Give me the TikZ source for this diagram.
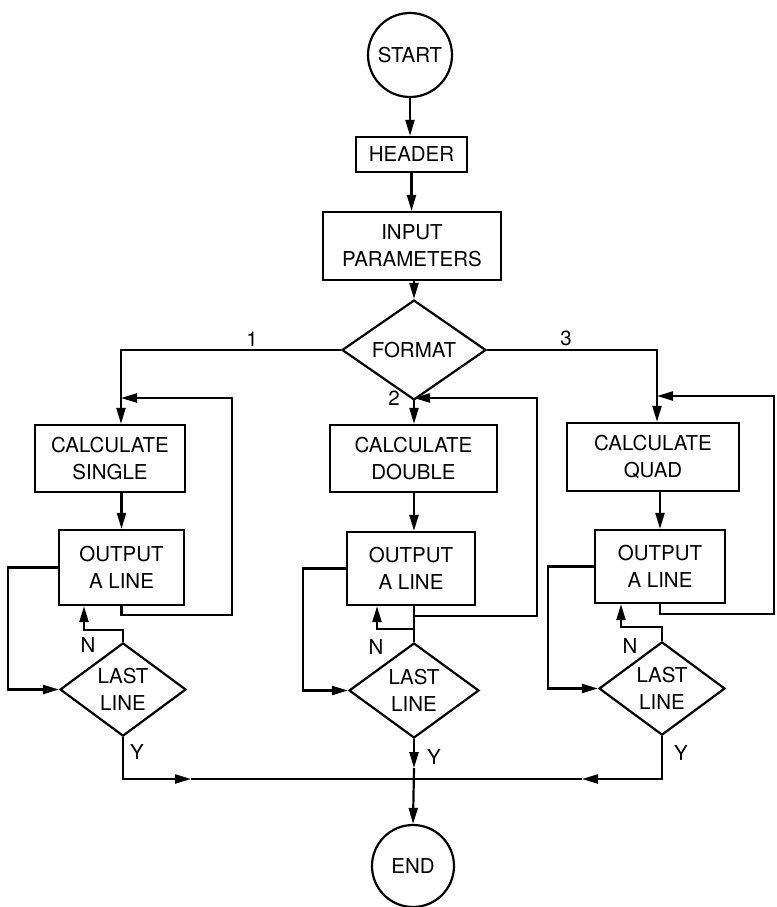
\documentclass[tikz,border=0pt]{standalone}
\usepackage{fontspec}
\setmainfont{TeX Gyre Heros}
\usetikzlibrary{shapes.geometric,arrows.meta}
\begin{document}
\begin{tikzpicture}[x=1pt,y=-1pt,
  every node/.style={font=\fontsize{20.5}{27}\selectfont, align=center, inner sep=0pt},
  box/.style={draw, line width=2.2pt, rectangle},
  term/.style={draw, line width=2.2pt, circle},
  dec/.style={draw, line width=2.2pt, diamond},
  line/.style={line width=2.2pt},
  arr/.style={line width=2.2pt, -{Triangle[length=16pt,width=9pt]}}
]
\useasboundingbox (0,0) rectangle (776,907);

% main column
\node[term, minimum size=84pt] (start) at (410,55) {START};
\node[box, minimum width=111pt, minimum height=35pt] (header) at (411.5,154.5) {HEADER};
\node[box, minimum width=178pt, minimum height=68pt] (input) at (412,246) {INPUT\\PARAMETERS};
\node[dec, minimum width=144pt, minimum height=64pt] (format) at (414,350) {FORMAT};

% left column
\node[box, minimum width=150pt, minimum height=67pt] (calcA) at (110,458.5) {CALCULATE\\SINGLE};
\node[box, minimum width=125pt, minimum height=75pt] (outA) at (121.5,567.5) {OUTPUT\\A LINE};
\node[dec, minimum width=126pt, minimum height=93pt] (lastA) at (123,689.5) {LAST\\LINE};

% middle column
\node[box, minimum width=167pt, minimum height=67pt] (calcB) at (413.5,458.5) {CALCULATE\\DOUBLE};
\node[box, minimum width=128pt, minimum height=73pt] (outB) at (411,568.5) {OUTPUT\\A LINE};
\node[dec, minimum width=130pt, minimum height=95pt] (lastB) at (414,690.5) {LAST\\LINE};

% right column
\node[box, minimum width=172pt, minimum height=68pt] (calcC) at (653,457) {CALCULATE\\QUAD};
\node[box, minimum width=130pt, minimum height=73pt] (outC) at (660,566.5) {OUTPUT\\A LINE};
\node[dec, minimum width=126pt, minimum height=93pt] (lastC) at (662,688.5) {LAST\\LINE};

\node[term, minimum size=82pt] (end) at (413,866) {END};

% labels
\node (l1) at (252,339) {1};
\node (l2) at (394,398) {2};
\node (l3) at (566,338) {3};
\node (nlA) at (88,645) {N};
\node (nlB) at (376,647) {N};
\node (nlC) at (630,646) {N};
\node (ylA) at (137,752) {Y};
\node (ylB) at (434,757) {Y};
\node (ylC) at (681,753) {Y};

% coordinates
\coordinate (loopA) at (121,398);
\coordinate (loopB) at (414,398);
\coordinate (loopC) at (657,396);
\coordinate (rA) at (232,615);
\coordinate (rB) at (537,616);
\coordinate (rC) at (774,614);
\coordinate (wA) at (8,0);
\coordinate (wB) at (303,0);
\coordinate (wC) at (548,0);
\coordinate (nA) at (84,630);
\coordinate (nB) at (377,629);
\coordinate (nC) at (621,627);
\coordinate (bus) at (414,779);
\coordinate (yA) at (191,779);
\coordinate (yB) at (414,768);
\coordinate (yC) at (582,779);

% top connectors
\draw[arr] (start.south) -- (start.south |- header.north);
\draw[arr] (header.south) -- (header.south |- input.north);
\draw[arr] (format.north |- input.south) -- (format.north);

% branches from FORMAT
\draw[line] (format.west) -| (loopA);
\draw[arr] (loopA) -- (loopA |- calcA.north);
\draw[line] (format.south) -- (loopB);
\draw[arr] (loopB) -- (loopB |- calcB.north);
\draw[line] (format.east) -| (loopC);
\draw[arr] (loopC) -- (loopC |- calcC.north);

% calc -> output
\draw[arr] (outA.north |- calcA.south) -- (outA.north);
\draw[arr] (lastB.north |- calcB.south) -- (lastB.north |- outB.north);
\draw[arr] (outC.north |- calcC.south) -- (outC.north);

% left column loops
\draw[arr] (outA.south) |- (rA) |- (loopA);
\draw[arr] (outA.west) -| (wA |- lastA.west) -- (lastA.west);
\draw[arr] (lastA.north) |- (nA) -- (nA |- outA.south);
\draw[arr] (lastA.south) |- (yA);
\draw[line] (yA) -- (bus);

% middle column loops
\draw[line] (lastB.north |- outB.south) -- (lastB.north);
\draw[arr] (rB -| lastB.north) -- (rB) |- (loopB);
\draw[arr] (outB.west) -| (wB |- lastB.west) -- (lastB.west);
\draw[arr] (nB -| lastB.north) -- (nB) -- (nB |- outB.south);
\draw[arr] (lastB.south) -- (yB);
\draw[arr] (yB) -- (end.north);

% right column loops
\draw[arr] (outC.south) |- (rC) |- (loopC);
\draw[arr] (outC.west) -| (wC |- lastC.west) -- (lastC.west);
\draw[arr] (lastC.north) |- (nC) -- (nC |- outC.south);
\draw[arr] (lastC.south) |- (yC);
\draw[line] (yC) -- (bus);
\end{tikzpicture}
\end{document}
